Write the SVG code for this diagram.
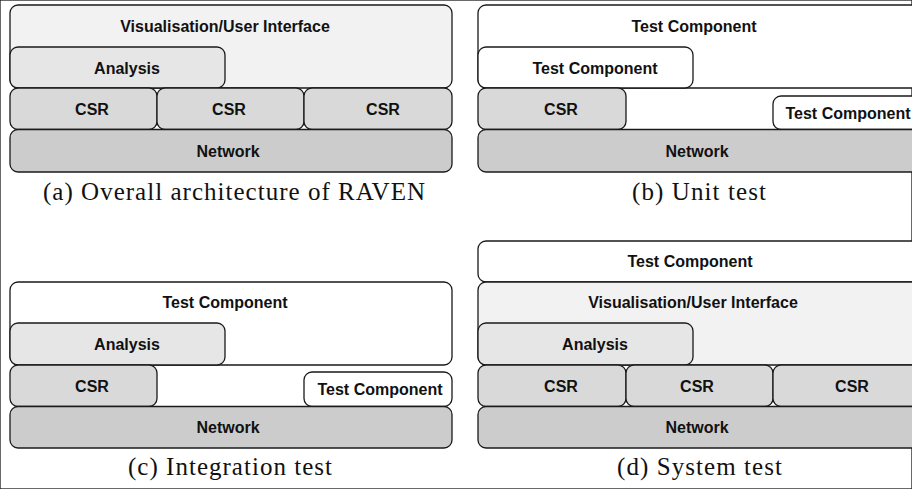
<svg xmlns="http://www.w3.org/2000/svg" width="912" height="489" viewBox="0 0 912 489">
<style>
rect{stroke:#1a1a1a;stroke-width:1.3}
.vis{fill:#f2f2f2}.ana{fill:#e6e6e6}.csr{fill:#d9d9d9}.net{fill:#cccccc}.tc{fill:#ffffff}
.lbl{font-family:"Liberation Sans",Arial,sans-serif;font-weight:bold;font-size:16px;fill:#111;text-anchor:middle}
.cap{font-family:"Liberation Serif","Times New Roman",serif;font-size:25px;fill:#111}
</style>
<rect x="0" y="0" width="912" height="489" fill="#fff" stroke="none"/>
<g id="connectors"></g>
<!-- Panel (a) -->
<g id="a-vis"><rect class="vis" x="10" y="5" width="442" height="83" rx="8"/><text class="lbl" x="225" y="32">Visualisation/User Interface</text></g>
<g id="a-analysis"><rect class="ana" x="10" y="47" width="215" height="41" rx="8"/><text class="lbl" x="127" y="74">Analysis</text></g>
<g id="a-csr1"><rect class="csr" x="10" y="88" width="147" height="41.5" rx="8"/><text class="lbl" x="92" y="115">CSR</text></g>
<g id="a-csr2"><rect class="csr" x="157" y="88" width="147" height="41.5" rx="8"/><text class="lbl" x="229" y="115">CSR</text></g>
<g id="a-csr3"><rect class="csr" x="304" y="88" width="148" height="41.5" rx="8"/><text class="lbl" x="383" y="115">CSR</text></g>
<g id="a-network"><rect class="net" x="10" y="129.5" width="442" height="42.5" rx="8"/><text class="lbl" x="228" y="157">Network</text></g>
<text class="cap" x="43" y="200" textLength="382" lengthAdjust="spacing">(a) Overall architecture of RAVEN</text>
<!-- Panel (b) -->
<g id="b-tc-outer"><rect class="tc" x="478" y="5" width="442" height="83" rx="8"/><text class="lbl" x="694" y="32">Test Component</text></g>
<g id="b-tc-inner"><rect class="tc" x="478" y="47" width="215" height="41" rx="8"/><text class="lbl" x="595" y="74">Test Component</text></g>
<g id="b-csr"><rect class="csr" x="478" y="88" width="148" height="41.5" rx="8"/><text class="lbl" x="561" y="115">CSR</text></g>
<g id="b-tc-small"><rect class="tc" x="773" y="96" width="147" height="33.5" rx="8"/><text class="lbl" x="848" y="119">Test Component</text></g>
<g id="b-network"><rect class="net" x="478" y="129.5" width="442" height="42.5" rx="8"/><text class="lbl" x="697" y="157">Network</text></g>
<text class="cap" x="632" y="200" textLength="134" lengthAdjust="spacing">(b) Unit test</text>
<!-- Panel (c) -->
<g id="c-tc-outer"><rect class="tc" x="10" y="282" width="442" height="83" rx="8"/><text class="lbl" x="225" y="308">Test Component</text></g>
<g id="c-analysis"><rect class="ana" x="10" y="323" width="215" height="42" rx="8"/><text class="lbl" x="127" y="350">Analysis</text></g>
<g id="c-csr"><rect class="csr" x="10" y="365" width="147" height="41.5" rx="8"/><text class="lbl" x="92" y="392">CSR</text></g>
<g id="c-tc-small"><rect class="tc" x="304" y="372" width="148" height="34.5" rx="8"/><text class="lbl" x="380" y="395">Test Component</text></g>
<g id="c-network"><rect class="net" x="10" y="406.5" width="442" height="41.5" rx="8"/><text class="lbl" x="228" y="433">Network</text></g>
<text class="cap" x="128" y="475" textLength="204" lengthAdjust="spacing">(c) Integration test</text>
<!-- Panel (d) -->
<g id="d-tc"><rect class="tc" x="478" y="241" width="442" height="41" rx="8"/><text class="lbl" x="690" y="267">Test Component</text></g>
<g id="d-vis"><rect class="vis" x="478" y="282" width="442" height="83" rx="8"/><text class="lbl" x="693" y="308">Visualisation/User Interface</text></g>
<g id="d-analysis"><rect class="ana" x="478" y="323" width="215" height="42" rx="8"/><text class="lbl" x="595" y="350">Analysis</text></g>
<g id="d-csr1"><rect class="csr" x="478" y="365" width="148" height="41.5" rx="8"/><text class="lbl" x="561" y="392">CSR</text></g>
<g id="d-csr2"><rect class="csr" x="626" y="365" width="147" height="41.5" rx="8"/><text class="lbl" x="697" y="392">CSR</text></g>
<g id="d-csr3"><rect class="csr" x="773" y="365" width="147" height="41.5" rx="8"/><text class="lbl" x="852" y="392">CSR</text></g>
<g id="d-network"><rect class="net" x="478" y="406.5" width="442" height="41.5" rx="8"/><text class="lbl" x="697" y="433">Network</text></g>
<text class="cap" x="617" y="475" textLength="165" lengthAdjust="spacing">(d) System test</text>
</svg>
